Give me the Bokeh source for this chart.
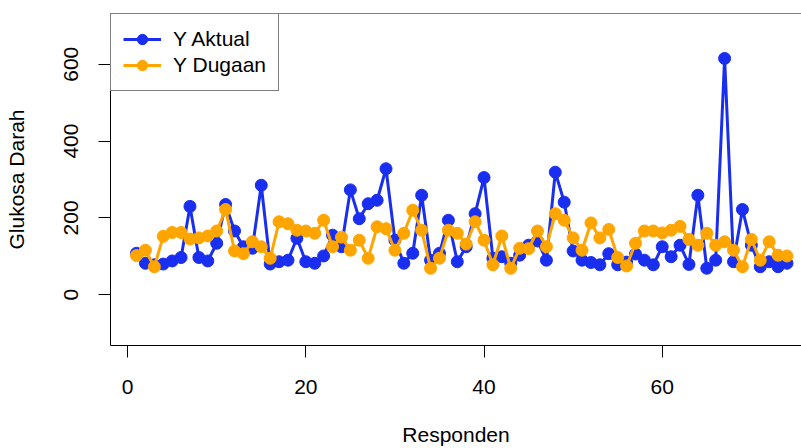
from bokeh.plotting import figure
from bokeh.models import Range1d, FixedTicker, Legend, LegendItem, Span
from bokeh.embed import file_html
from bokeh.resources import INLINE

responden = list(range(1, 75))
y_aktual = [108, 82, 78, 80, 88, 97, 230, 97, 88, 134,
            235, 166, 125, 121, 285, 80, 86, 90, 147, 86,
            82, 101, 155, 125, 273, 198, 237, 246, 328, 142,
            82, 108, 259, 90, 108, 194, 86, 125, 211, 305,
            95, 99, 82, 103, 129, 140, 90, 319, 241, 114,
            90, 84, 78, 107, 78, 85, 106, 90, 78, 125,
            99, 129, 79, 259, 69, 90, 615, 86, 222, 129,
            73, 86, 73, 82]
y_dugaan = [102, 116, 73, 152, 162, 162, 145, 148, 153, 166,
            222, 114, 107, 138, 125, 95, 190, 185, 168, 166,
            160, 194, 125, 150, 116, 142, 95, 177, 172, 116,
            160, 220, 168, 69, 95, 168, 160, 132, 190, 142,
            78, 153, 69, 121, 120, 166, 125, 211, 194, 148,
            116, 187, 148, 170, 97, 75, 134, 166, 166, 161,
            168, 178, 144, 129, 160, 129, 138, 116, 73, 144,
            90, 138, 103, 101]
x_ticks = [0, 20, 40, 60]
y_ticks = [0, 200, 400, 600]

FONT = "Liberation Sans"
FS = "21px"
BLUE = "#1a2ef0"
ORANGE = "#ffa500"

p = figure(width=801, height=448, output_backend="svg", toolbar_location=None,
           x_range=Range1d(-1.92, 75.63), y_range=Range1d(-132, 732),
           min_border_left=110, min_border_right=0, min_border_top=13,
           min_border_bottom=103)
p.outline_line_color = None
p.grid.visible = False
p.background_fill_color = "white"
p.border_fill_color = "white"

for ax in (p.xaxis[0], p.yaxis[0]):
    ax.major_label_text_font = FONT
    ax.major_label_text_font_size = FS
    ax.major_label_text_color = "black"
    ax.axis_label_text_font = FONT
    ax.axis_label_text_font_size = FS
    ax.axis_label_text_font_style = "normal"
    ax.axis_label_text_color = "black"
    ax.axis_line_color = "black"
    ax.axis_line_width = 1
    ax.major_tick_line_color = "black"
    ax.major_tick_out = 12
    ax.major_tick_in = 0
    ax.minor_tick_line_color = None

p.xaxis.ticker = FixedTicker(ticks=x_ticks)
p.yaxis.ticker = FixedTicker(ticks=y_ticks)
p.xaxis.axis_label = "Responden"
p.yaxis.axis_label = "Glukosa Darah"
p.xaxis.major_label_standoff = 22
p.xaxis.axis_label_standoff = 26
p.yaxis.major_label_orientation = "vertical"
p.yaxis.major_label_standoff = 20
p.yaxis.axis_label_standoff = 34

top = Span(location=732, dimension="width", line_color="black", line_width=1)
p.add_layout(top)

lb = p.line(responden, y_aktual, line_color=BLUE, line_width=3)
sb = p.scatter(responden, y_aktual, size=12, fill_color=BLUE, line_color=BLUE)
lo = p.line(responden, y_dugaan, line_color=ORANGE, line_width=3)
so = p.scatter(responden, y_dugaan, size=12, fill_color=ORANGE, line_color=ORANGE)

legend = Legend(items=[LegendItem(label="Y Aktual", renderers=[lb, sb]),
                       LegendItem(label="Y Dugaan", renderers=[lo, so])],
                location="top_left", margin=0, padding=12, spacing=0,
                glyph_width=38, glyph_height=26, label_height=26,
                label_standoff=12,
                label_text_font=FONT, label_text_font_size=FS,
                label_text_color="black",
                border_line_color="black", border_line_width=1,
                background_fill_color="white", background_fill_alpha=1.0)
p.add_layout(legend)

open("out.html", "w").write(file_html(p, INLINE))
